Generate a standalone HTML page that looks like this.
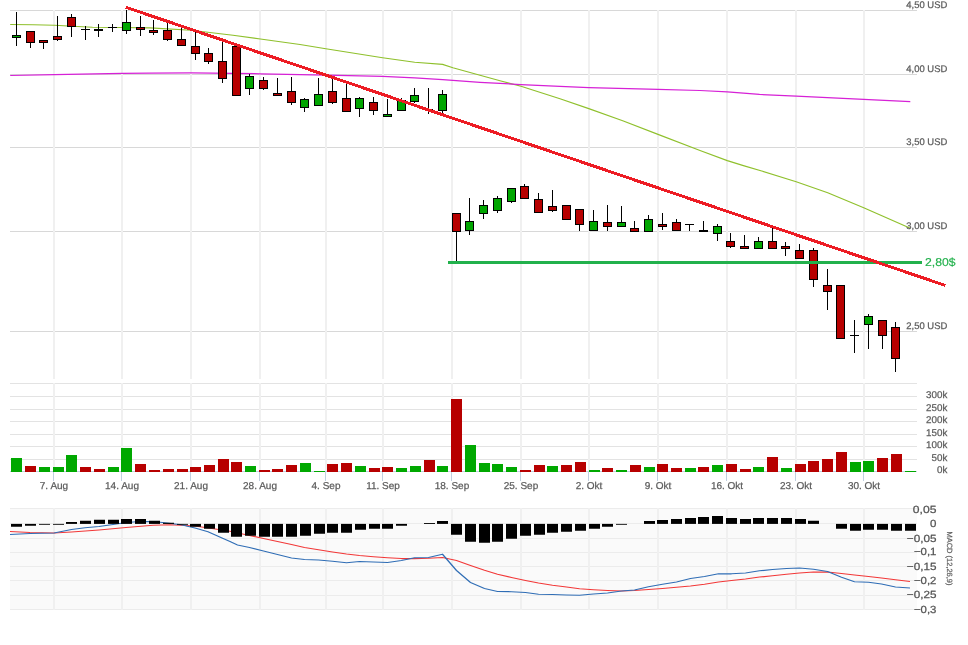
<!DOCTYPE html>
<html><head><meta charset="utf-8"><title>Chart</title>
<style>html,body{margin:0;padding:0;background:#fff}svg{display:block;will-change:transform}</style></head>
<body>
<svg width="968" height="645" viewBox="0 0 968 645" font-family="Liberation Sans, sans-serif" text-rendering="geometricPrecision">
<rect width="968" height="645" fill="#fff"/>
<rect x="10" y="508" width="907" height="102" fill="#fafafa"/>
<path d="M10 10.5H917M10 74.5H917M10 147.5H917M10 231.5H917M10 331.5H917" stroke="#d8d8d8" stroke-width="1" fill="none" shape-rendering="crispEdges"/>
<path d="M10 383.5H917M10 396.5H917M10 409.5H917M10 421.5H917M10 434.5H917M10 446.5H917M10 459.5H917" stroke="#e3e3e3" stroke-width="1" fill="none" shape-rendering="crispEdges"/>
<path d="M54 10V379M122 10V379M191 10V379M260 10V379M326 10V379M383 10V379M452 10V379M521 10V379M589 10V379M658 10V379M727 10V379M796 10V379M864 10V379M54 383V472M122 383V472M191 383V472M260 383V472M326 383V472M383 383V472M452 383V472M521 383V472M589 383V472M658 383V472M727 383V472M796 383V472M864 383V472" stroke="#f0f0f0" stroke-width="2" fill="none" shape-rendering="crispEdges"/>
<path d="M10 471.5H917" stroke="#c0d0e0" stroke-width="1" fill="none" shape-rendering="crispEdges"/>
<path d="M10 508.5H917M10 523.5H917M10 538.5H917M10 552.5H917M10 566.5H917M10 580.5H917M10 595.5H917M10 609.5H917" stroke="#ececec" stroke-width="1" fill="none" shape-rendering="crispEdges"/>
<path d="M54 508V610M122 508V610M191 508V610M260 508V610M326 508V610M383 508V610M452 508V610M521 508V610M589 508V610M658 508V610M727 508V610M796 508V610M864 508V610" stroke="#f0f0f0" stroke-width="2" fill="none" shape-rendering="crispEdges"/>
<path d="M53.5 472V481M121.5 472V481M190.5 472V481M259.5 472V481M325.5 472V481M382.5 472V481M451.5 472V481M520.5 472V481M588.5 472V481M657.5 472V481M726.5 472V481M795.5 472V481M863.5 472V481" stroke="#c0d0e0" stroke-width="1" fill="none" shape-rendering="crispEdges"/>
<path d="M10.2 24.5L33 24.7L54.5 25.2L72.7 26.2L92.5 27.2L122.3 27.5L150 27.9L191.3 30.2L216.1 33.2L233 35.2L260.4 39L300 44.5L325.8 48.7L382.6 57.8L414.7 62.3L442.6 64.4L452.9 67.7L480 75.3L500 80.8L521 86.2L560 98.7L588.8 108.6L622.7 120.8L658 134.4L700 150.5L727.3 160.6L743.4 165.6L761.7 171L796.2 181.7L827.7 192.8L863.7 207.7L910.3 228.3" stroke="#8fc02c" stroke-width="1.15" fill="none" stroke-linejoin="round"/>
<path d="M10.2 75.5L54.5 74.6L122.3 73.3L150 73.1L191.3 72.9L233 73.4L260.4 73.8L300 74.6L325.8 75.1L382.6 76.4L414.7 77.8L442.6 79.7L480 82.3L500 83.4L521 84.6L560 86.4L588.8 87.7L658 89.3L700 90.5L727.3 91.9L759.5 94.4L796.2 96.1L863.7 99.3L910.3 101.6" stroke="#d621d6" stroke-width="1.25" fill="none" stroke-linejoin="round"/>
<path d="M16.5 12V45.75M30.5 31.5V47.5M43.5 40.5V48.75M57.5 16.25V40.5M71.5 14.25V36.75M85.5 26.25V39.5M81.0 29.5H90.0M98.5 24.25V36.75M112.5 24V31.75M108.0 27.5H117.0M126.5 9.5V33.75M140.5 16.25V35.75M153.5 20V34.5M167.5 23.25V40.5M181.5 28.25V45.5M195.5 31.25V60M208.5 48.25V63.75M222.5 42V82.75M236.5 46.5V95.5M249.5 74.25V94.5M263.5 76.5V89.5M277.5 78.25V95.5M291.5 77.25V104.5M304.5 98.25V111.5M318.5 78.25V105.5M332.5 78.25V103.5M346.5 84.25V111.5M359.5 97.25V116.5M373.5 97.25V114.5M387.5 99.25V116.5M401.5 98.25V110.5M414.5 88.25V102.5M428.5 88.25V113.5M424.0 109.5H433.0M442.5 90.25V112.5M456.5 213.5V261M469.5 198V234.5M483.5 200.25V218.75M497.5 196.25V212.75M511.5 188.5V202.5M524.5 184V198.5M538.5 193.25V212.5M552.5 190V211.75M566.5 205.5V219.5M579.5 209.5V230.75M593.5 210.25V230.5M607.5 205V230.75M621.5 206.25V226.5M634.5 221.25V231.5M648.5 215.25V231.5M662.5 213.25V229.5M676.5 219.25V230.5M689.5 224.5V230.75M685.0 224.5H694.0M703.5 221.25V231M717.5 224.25V240.5M730.5 233.25V247.5M744.5 235.25V248.5M758.5 237.25V248.5M772.5 226.25V248.5M785.5 242.25V255.5M799.5 244.25V258.5M813.5 248.25V286.75M827.5 269.25V309.75M840.5 285.5V338.5M854.5 320.25V352.75M850.0 335.5H859.0M868.5 314.25V348.75M882.5 320.5V348.75M895.5 322.25V371.75" stroke="#000" stroke-width="1" fill="none" shape-rendering="crispEdges"/>
<g shape-rendering="crispEdges"><rect x="12.5" y="35.5" width="8" height="2.0" fill="#00a600" stroke="#000" stroke-width="1"/><rect x="26.5" y="31.5" width="8" height="11.0" fill="#b70000" stroke="#000" stroke-width="1"/><rect x="39.5" y="40.5" width="8" height="2.0" fill="#b70000" stroke="#000" stroke-width="1"/><rect x="53.5" y="36.5" width="8" height="3.0" fill="#b70000" stroke="#000" stroke-width="1"/><rect x="67.5" y="17.5" width="8" height="9.0" fill="#b70000" stroke="#000" stroke-width="1"/><rect x="94.0" y="29.0" width="9" height="2.0" fill="#000"/><rect x="122.5" y="22.5" width="8" height="8.0" fill="#00a600" stroke="#000" stroke-width="1"/><rect x="136.5" y="27.5" width="8" height="2.0" fill="#b70000" stroke="#000" stroke-width="1"/><rect x="149.5" y="30.5" width="8" height="2.0" fill="#b70000" stroke="#000" stroke-width="1"/><rect x="163.5" y="30.5" width="8" height="9.0" fill="#b70000" stroke="#000" stroke-width="1"/><rect x="177.5" y="39.5" width="8" height="6.0" fill="#b70000" stroke="#000" stroke-width="1"/><rect x="191.5" y="46.5" width="8" height="7.0" fill="#b70000" stroke="#000" stroke-width="1"/><rect x="204.5" y="53.5" width="8" height="8.0" fill="#b70000" stroke="#000" stroke-width="1"/><rect x="218.5" y="61.5" width="8" height="17.0" fill="#b70000" stroke="#000" stroke-width="1"/><rect x="232.5" y="46.5" width="8" height="49.0" fill="#b70000" stroke="#000" stroke-width="1"/><rect x="245.5" y="76.5" width="8" height="12.0" fill="#00a600" stroke="#000" stroke-width="1"/><rect x="259.5" y="80.5" width="8" height="8.0" fill="#b70000" stroke="#000" stroke-width="1"/><rect x="273.5" y="93.5" width="8" height="2.0" fill="#b70000" stroke="#000" stroke-width="1"/><rect x="287.5" y="91.5" width="8" height="11.0" fill="#b70000" stroke="#000" stroke-width="1"/><rect x="300.5" y="99.5" width="8" height="8.0" fill="#00a600" stroke="#000" stroke-width="1"/><rect x="314.5" y="94.5" width="8" height="11.0" fill="#00a600" stroke="#000" stroke-width="1"/><rect x="328.5" y="91.5" width="8" height="11.0" fill="#b70000" stroke="#000" stroke-width="1"/><rect x="342.5" y="98.5" width="8" height="13.0" fill="#b70000" stroke="#000" stroke-width="1"/><rect x="355.5" y="98.5" width="8" height="10.0" fill="#00a600" stroke="#000" stroke-width="1"/><rect x="369.5" y="102.5" width="8" height="8.0" fill="#b70000" stroke="#000" stroke-width="1"/><rect x="383.5" y="114.5" width="8" height="2.0" fill="#00a600" stroke="#000" stroke-width="1"/><rect x="397.5" y="100.5" width="8" height="10.0" fill="#00a600" stroke="#000" stroke-width="1"/><rect x="410.5" y="95.5" width="8" height="6.0" fill="#00a600" stroke="#000" stroke-width="1"/><rect x="438.5" y="94.5" width="8" height="16.0" fill="#00a600" stroke="#000" stroke-width="1"/><rect x="452.5" y="213.5" width="8" height="18.0" fill="#b70000" stroke="#000" stroke-width="1"/><rect x="465.5" y="221.5" width="8" height="9.0" fill="#00a600" stroke="#000" stroke-width="1"/><rect x="479.5" y="205.5" width="8" height="8.0" fill="#00a600" stroke="#000" stroke-width="1"/><rect x="493.5" y="198.5" width="8" height="12.0" fill="#00a600" stroke="#000" stroke-width="1"/><rect x="507.5" y="188.5" width="8" height="13.0" fill="#00a600" stroke="#000" stroke-width="1"/><rect x="520.5" y="186.5" width="8" height="12.0" fill="#b70000" stroke="#000" stroke-width="1"/><rect x="534.5" y="199.5" width="8" height="13.0" fill="#b70000" stroke="#000" stroke-width="1"/><rect x="548.5" y="206.5" width="8" height="4.0" fill="#b70000" stroke="#000" stroke-width="1"/><rect x="562.5" y="205.5" width="8" height="14.0" fill="#b70000" stroke="#000" stroke-width="1"/><rect x="575.5" y="209.5" width="8" height="15.0" fill="#b70000" stroke="#000" stroke-width="1"/><rect x="589.5" y="221.5" width="8" height="9.0" fill="#00a600" stroke="#000" stroke-width="1"/><rect x="603.5" y="222.5" width="8" height="4.0" fill="#b70000" stroke="#000" stroke-width="1"/><rect x="617.5" y="222.5" width="8" height="4.0" fill="#00a600" stroke="#000" stroke-width="1"/><rect x="630.5" y="228.5" width="8" height="3.0" fill="#b70000" stroke="#000" stroke-width="1"/><rect x="644.5" y="219.5" width="8" height="12.0" fill="#00a600" stroke="#000" stroke-width="1"/><rect x="658.5" y="224.5" width="8" height="2.0" fill="#b70000" stroke="#000" stroke-width="1"/><rect x="672.5" y="222.5" width="8" height="8.0" fill="#b70000" stroke="#000" stroke-width="1"/><rect x="699.0" y="230.0" width="9" height="2.0" fill="#000"/><rect x="713.5" y="226.5" width="8" height="7.0" fill="#00a600" stroke="#000" stroke-width="1"/><rect x="726.5" y="241.5" width="8" height="5.0" fill="#b70000" stroke="#000" stroke-width="1"/><rect x="740.5" y="246.5" width="8" height="2.0" fill="#b70000" stroke="#000" stroke-width="1"/><rect x="754.5" y="241.5" width="8" height="7.0" fill="#00a600" stroke="#000" stroke-width="1"/><rect x="768.5" y="241.5" width="8" height="7.0" fill="#b70000" stroke="#000" stroke-width="1"/><rect x="781.5" y="246.5" width="8" height="2.0" fill="#b70000" stroke="#000" stroke-width="1"/><rect x="795.5" y="250.5" width="8" height="8.0" fill="#b70000" stroke="#000" stroke-width="1"/><rect x="809.5" y="250.5" width="8" height="29.0" fill="#b70000" stroke="#000" stroke-width="1"/><rect x="823.5" y="285.5" width="8" height="6.0" fill="#b70000" stroke="#000" stroke-width="1"/><rect x="836.5" y="285.5" width="8" height="53.0" fill="#b70000" stroke="#000" stroke-width="1"/><rect x="864.5" y="316.5" width="8" height="8.0" fill="#00a600" stroke="#000" stroke-width="1"/><rect x="878.5" y="320.5" width="8" height="15.0" fill="#b70000" stroke="#000" stroke-width="1"/><rect x="891.5" y="327.5" width="8" height="31.0" fill="#b70000" stroke="#000" stroke-width="1"/></g>
<path d="M448 262.5H921.7" stroke="#22b14c" stroke-width="3" fill="none" shape-rendering="crispEdges"/>
<path d="M125.7 7.2L945.5 285.5" stroke="#ed1c24" stroke-width="3" fill="none" shape-rendering="crispEdges"/>
<g><rect x="11" y="458" width="11" height="14" fill="#00a800"/><rect x="25" y="466" width="11" height="6" fill="#b70000"/><rect x="39" y="467" width="11" height="5" fill="#00a800"/><rect x="53" y="467" width="11" height="5" fill="#00a800"/><rect x="66" y="455" width="11" height="17" fill="#00a800"/><rect x="80" y="467" width="11" height="5" fill="#b70000"/><rect x="94" y="469" width="11" height="3" fill="#b70000"/><rect x="108" y="467" width="11" height="5" fill="#00a800"/><rect x="121" y="448" width="11" height="24" fill="#00a800"/><rect x="135" y="464" width="11" height="8" fill="#b70000"/><rect x="149" y="470" width="11" height="2" fill="#b70000"/><rect x="163" y="469" width="11" height="3" fill="#b70000"/><rect x="177" y="469" width="11" height="3" fill="#b70000"/><rect x="190" y="467" width="11" height="5" fill="#b70000"/><rect x="204" y="465" width="11" height="7" fill="#b70000"/><rect x="218" y="459" width="11" height="13" fill="#b70000"/><rect x="231" y="462" width="11" height="10" fill="#b70000"/><rect x="245" y="466" width="11" height="6" fill="#00a800"/><rect x="259" y="470" width="11" height="2" fill="#b70000"/><rect x="272" y="469" width="11" height="3" fill="#b70000"/><rect x="286" y="465" width="11" height="7" fill="#b70000"/><rect x="300" y="463" width="11" height="9" fill="#00a800"/><rect x="314" y="471" width="11" height="1" fill="#00a800"/><rect x="327" y="464" width="11" height="8" fill="#b70000"/><rect x="341" y="463" width="11" height="9" fill="#b70000"/><rect x="355" y="466" width="11" height="6" fill="#00a800"/><rect x="369" y="468" width="11" height="4" fill="#b70000"/><rect x="382" y="467" width="11" height="5" fill="#b70000"/><rect x="396" y="468" width="11" height="4" fill="#00a800"/><rect x="410" y="466" width="11" height="6" fill="#00a800"/><rect x="424" y="460" width="11" height="12" fill="#b70000"/><rect x="437" y="466" width="11" height="6" fill="#00a800"/><rect x="451" y="399" width="11" height="73" fill="#b70000"/><rect x="465" y="445" width="11" height="27" fill="#00a800"/><rect x="479" y="463" width="11" height="9" fill="#00a800"/><rect x="492" y="464" width="11" height="8" fill="#00a800"/><rect x="506" y="467" width="11" height="5" fill="#00a800"/><rect x="520" y="470" width="11" height="2" fill="#b70000"/><rect x="534" y="465" width="11" height="7" fill="#b70000"/><rect x="547" y="466" width="11" height="6" fill="#00a800"/><rect x="561" y="465" width="11" height="7" fill="#b70000"/><rect x="575" y="462" width="11" height="10" fill="#b70000"/><rect x="589" y="470" width="11" height="2" fill="#00a800"/><rect x="602" y="468" width="11" height="4" fill="#b70000"/><rect x="616" y="470" width="11" height="2" fill="#00a800"/><rect x="630" y="465" width="11" height="7" fill="#b70000"/><rect x="644" y="467" width="11" height="5" fill="#00a800"/><rect x="657" y="464" width="11" height="8" fill="#b70000"/><rect x="671" y="468" width="11" height="4" fill="#b70000"/><rect x="685" y="468" width="11" height="4" fill="#00a800"/><rect x="698" y="467" width="11" height="5" fill="#b70000"/><rect x="712" y="465" width="11" height="7" fill="#00a800"/><rect x="726" y="464" width="11" height="8" fill="#b70000"/><rect x="740" y="469" width="11" height="3" fill="#b70000"/><rect x="753" y="467" width="11" height="5" fill="#00a800"/><rect x="767" y="457" width="11" height="15" fill="#b70000"/><rect x="781" y="468" width="11" height="4" fill="#00a800"/><rect x="795" y="464" width="11" height="8" fill="#b70000"/><rect x="808" y="461" width="11" height="11" fill="#b70000"/><rect x="822" y="459" width="11" height="13" fill="#b70000"/><rect x="836" y="452" width="11" height="20" fill="#b70000"/><rect x="850" y="462" width="11" height="10" fill="#00a800"/><rect x="863" y="461" width="11" height="11" fill="#00a800"/><rect x="877" y="458" width="11" height="14" fill="#b70000"/><rect x="891" y="454" width="11" height="18" fill="#b70000"/><rect x="905" y="471" width="11" height="1" fill="#00a800"/></g>
<path d="M10 531.5L30 532.5L54 533L71.5 532L99 530L126 527.5L153 525.25L170 524.75L195 526L222 530L230 531.25L245 534.5L263.5 538.5L277.5 541.5L291.5 544.5L304.5 547.5L318.5 549.75L332.5 552L346.5 554L359.5 555.5L373.5 556.75L387.5 557.75L401.5 558.5L414.5 558.5L428.5 558.25L442.5 557.5L456.5 560.5L470.5 565.5L484.5 570.25L497.5 574.25L511.5 577.5L525.5 580.5L538.5 583L552.5 585.25L566.5 587L579.5 588.75L593.5 589.75L607.5 590.5L621.5 591L634.5 590.5L648.5 589.5L662.5 588.5L676.5 587.25L690.5 586L704.5 584.25L718.5 582L731.5 580.5L745.5 579L759.5 577L772.5 575.75L786.5 574.25L799.5 573L813.5 572L827.5 572L841.5 573.5L854.5 575L868.5 576.5L881.5 578L895.5 579.75L910 581.5" stroke="#f23838" stroke-width="1.25" fill="none" stroke-linejoin="round"/>
<path d="M10 534.5L30 533.5L54 533L71.5 529.5L85 527.75L99 526.5L113 524.5L126.5 522.5L140 521.5L153 521.5L167 523L181 524.75L195 528L208 531.75L222 538L230 541.5L237.5 545L249.5 547.5L263.5 551L277.5 554.5L291.5 558L304.5 559.5L318.5 560L332.5 561.25L346.5 562.75L359.5 561.5L373.5 562L387.5 562.5L401.5 560.5L414.5 557.75L428.5 557.5L442.5 554.25L456.5 570.5L470.5 582.5L484.5 588.5L497.5 591.5L511.5 591.75L525.5 592.5L538.5 594.25L552.5 594.5L566.5 595L579.5 595.25L593.5 594L607.5 593L621.5 591L634.5 590L648.5 586.75L662.5 584.25L676.5 582L690.5 578.5L704.5 576.5L718.5 573.75L731.5 573.75L745.5 573L759.5 570.75L772.5 569.5L786.5 568.5L799.5 568L813.5 569.25L827.5 571.5L841.5 577.25L854.5 581.75L868.5 582.25L881.5 584L895.5 587L910 588" stroke="#2f6db5" stroke-width="1.25" fill="none" stroke-linejoin="round"/>
<g><rect x="11" y="523.9" width="11" height="2.85" fill="#000"/><rect x="25" y="523.9" width="11" height="1.85" fill="#000"/><rect x="39" y="523.9" width="11" height="0.85" fill="#000"/><rect x="53" y="523.9" width="11" height="0.85" fill="#000"/><rect x="66" y="522" width="11" height="1.90" fill="#000"/><rect x="80" y="520.75" width="11" height="3.15" fill="#000"/><rect x="94" y="519.75" width="11" height="4.15" fill="#000"/><rect x="108" y="519.75" width="11" height="4.15" fill="#000"/><rect x="121" y="519" width="11" height="4.90" fill="#000"/><rect x="135" y="519" width="11" height="4.90" fill="#000"/><rect x="149" y="520.75" width="11" height="3.15" fill="#000"/><rect x="163" y="522.75" width="11" height="1.15" fill="#000"/><rect x="177" y="523.9" width="11" height="0.85" fill="#000"/><rect x="190" y="523.9" width="11" height="2.85" fill="#000"/><rect x="204" y="523.9" width="11" height="4.85" fill="#000"/><rect x="218" y="523.9" width="11" height="8.85" fill="#000"/><rect x="231" y="523.9" width="11" height="12.85" fill="#000"/><rect x="245" y="523.9" width="11" height="11.85" fill="#000"/><rect x="259" y="523.9" width="11" height="12.85" fill="#000"/><rect x="272" y="523.9" width="11" height="12.85" fill="#000"/><rect x="286" y="523.9" width="11" height="12.85" fill="#000"/><rect x="300" y="523.9" width="11" height="11.85" fill="#000"/><rect x="314" y="523.9" width="11" height="9.85" fill="#000"/><rect x="327" y="523.9" width="11" height="8.85" fill="#000"/><rect x="341" y="523.9" width="11" height="8.85" fill="#000"/><rect x="355" y="523.9" width="11" height="5.85" fill="#000"/><rect x="369" y="523.9" width="11" height="4.85" fill="#000"/><rect x="382" y="523.9" width="11" height="4.85" fill="#000"/><rect x="396" y="523.9" width="11" height="1.85" fill="#000"/><rect x="424" y="523" width="11" height="0.90" fill="#000"/><rect x="437" y="521" width="11" height="2.90" fill="#000"/><rect x="451" y="523.9" width="11" height="10.85" fill="#000"/><rect x="465" y="523.9" width="11" height="17.85" fill="#000"/><rect x="479" y="523.9" width="11" height="18.85" fill="#000"/><rect x="492" y="523.9" width="11" height="17.85" fill="#000"/><rect x="506" y="523.9" width="11" height="14.85" fill="#000"/><rect x="520" y="523.9" width="11" height="11.85" fill="#000"/><rect x="534" y="523.9" width="11" height="10.85" fill="#000"/><rect x="547" y="523.9" width="11" height="8.85" fill="#000"/><rect x="561" y="523.9" width="11" height="7.85" fill="#000"/><rect x="575" y="523.9" width="11" height="6.85" fill="#000"/><rect x="589" y="523.9" width="11" height="4.85" fill="#000"/><rect x="602" y="523.9" width="11" height="2.85" fill="#000"/><rect x="616" y="523.9" width="11" height="0.85" fill="#000"/><rect x="644" y="521" width="11" height="2.90" fill="#000"/><rect x="657" y="520" width="11" height="3.90" fill="#000"/><rect x="671" y="519" width="11" height="4.90" fill="#000"/><rect x="685" y="518" width="11" height="5.90" fill="#000"/><rect x="698" y="517" width="11" height="6.90" fill="#000"/><rect x="712" y="516" width="11" height="7.90" fill="#000"/><rect x="726" y="518" width="11" height="5.90" fill="#000"/><rect x="740" y="519" width="11" height="4.90" fill="#000"/><rect x="753" y="518" width="11" height="5.90" fill="#000"/><rect x="767" y="518" width="11" height="5.90" fill="#000"/><rect x="781" y="518" width="11" height="5.90" fill="#000"/><rect x="795" y="519" width="11" height="4.90" fill="#000"/><rect x="808" y="520.75" width="11" height="3.15" fill="#000"/><rect x="836" y="523.9" width="11" height="4.85" fill="#000"/><rect x="850" y="523.9" width="11" height="6.85" fill="#000"/><rect x="863" y="523.9" width="11" height="5.85" fill="#000"/><rect x="877" y="523.9" width="11" height="5.85" fill="#000"/><rect x="891" y="523.9" width="11" height="6.85" fill="#000"/><rect x="905" y="523.9" width="11" height="6.85" fill="#000"/></g>
<g fill="#5c5c5c" stroke="#5c5c5c" stroke-width="0.25"><text x="947.3" y="7.6" text-anchor="end" font-size="9.6" textLength="41" lengthAdjust="spacingAndGlyphs">4,50 USD</text><text x="947.3" y="71.6" text-anchor="end" font-size="9.6" textLength="41" lengthAdjust="spacingAndGlyphs">4,00 USD</text><text x="947.3" y="144.6" text-anchor="end" font-size="9.6" textLength="41" lengthAdjust="spacingAndGlyphs">3,50 USD</text><text x="947.3" y="228.6" text-anchor="end" font-size="9.6" textLength="41" lengthAdjust="spacingAndGlyphs">3,00 USD</text><text x="947.3" y="328.6" text-anchor="end" font-size="9.6" textLength="41" lengthAdjust="spacingAndGlyphs">2,50 USD</text><text x="947.3" y="398.4" text-anchor="end" font-size="9.8">300k</text><text x="947.3" y="411.4" text-anchor="end" font-size="9.8">250k</text><text x="947.3" y="423.4" text-anchor="end" font-size="9.8">200k</text><text x="947.3" y="436.4" text-anchor="end" font-size="9.8">150k</text><text x="947.3" y="448.4" text-anchor="end" font-size="9.8">100k</text><text x="947.3" y="461.4" text-anchor="end" font-size="9.8">50k</text><text x="947.3" y="473.4" text-anchor="end" font-size="9.8">0k</text><text x="54" y="488.7" text-anchor="middle" font-size="10">7. Aug</text><text x="122" y="488.7" text-anchor="middle" font-size="10">14. Aug</text><text x="191" y="488.7" text-anchor="middle" font-size="10">21. Aug</text><text x="260" y="488.7" text-anchor="middle" font-size="10">28. Aug</text><text x="326" y="488.7" text-anchor="middle" font-size="10">4. Sep</text><text x="383" y="488.7" text-anchor="middle" font-size="10">11. Sep</text><text x="452" y="488.7" text-anchor="middle" font-size="10">18. Sep</text><text x="521" y="488.7" text-anchor="middle" font-size="10">25. Sep</text><text x="589" y="488.7" text-anchor="middle" font-size="10">2. Okt</text><text x="658" y="488.7" text-anchor="middle" font-size="10">9. Okt</text><text x="727" y="488.7" text-anchor="middle" font-size="10">16. Okt</text><text x="796" y="488.7" text-anchor="middle" font-size="10">23. Okt</text><text x="864" y="488.7" text-anchor="middle" font-size="10">30. Okt</text></g>
<g fill="#555" stroke="#555" stroke-width="0.25"><text x="936.4" y="512.6" text-anchor="end" font-size="10.4" textLength="23.6" lengthAdjust="spacingAndGlyphs">0,05</text><text x="936.4" y="527" text-anchor="end" font-size="10.4" textLength="6.4" lengthAdjust="spacingAndGlyphs">0</text><text x="936.4" y="541.6" text-anchor="end" font-size="10.4" textLength="29.6" lengthAdjust="spacingAndGlyphs">−0,05</text><text x="936.4" y="555.3" text-anchor="end" font-size="10.4" textLength="22.5" lengthAdjust="spacingAndGlyphs">−0,1</text><text x="936.4" y="570" text-anchor="end" font-size="10.4" textLength="29.6" lengthAdjust="spacingAndGlyphs">−0,15</text><text x="936.4" y="584" text-anchor="end" font-size="10.4" textLength="22.5" lengthAdjust="spacingAndGlyphs">−0,2</text><text x="936.4" y="598.3" text-anchor="end" font-size="10.4" textLength="29.6" lengthAdjust="spacingAndGlyphs">−0,25</text><text x="936.4" y="612.8" text-anchor="end" font-size="10.4" textLength="22.5" lengthAdjust="spacingAndGlyphs">−0,3</text></g>
<text transform="translate(947.4 531.5) rotate(90)" font-size="7.6" fill="#606060" stroke="#606060" stroke-width="0.2" textLength="54" lengthAdjust="spacingAndGlyphs">MACD (12,26,9)</text>
<text x="925" y="265.6" font-size="11.4" fill="#22b14c" stroke="#22b14c" stroke-width="0.15" textLength="30.6" lengthAdjust="spacingAndGlyphs">2,80$</text>
</svg>
</body></html>
